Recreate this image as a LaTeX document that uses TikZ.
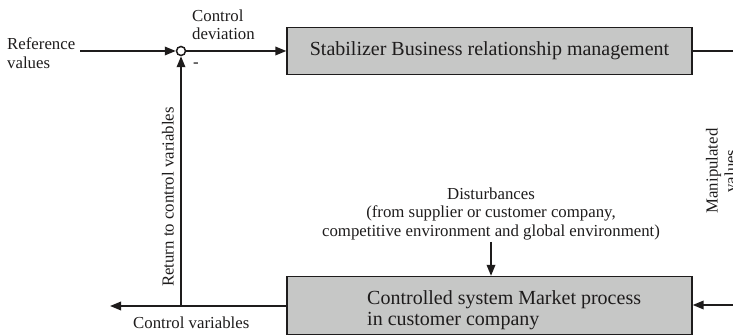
\documentclass[tikz,border=0pt]{standalone}
\usepackage{fontspec}
\setmainfont{Liberation Serif}
\usetikzlibrary{arrows.meta}
\definecolor{ink}{RGB}{30,28,28}
\definecolor{boxgray}{RGB}{198,199,198}
\begin{document}
\begin{tikzpicture}[x=1pt,y=-1pt,
  lbl/.style={inner sep=0pt,font=\fontsize{16.8}{18.5}\selectfont,text=ink},
  blockbox/.style={draw=ink,line width=1.3pt,fill=boxgray,inner sep=0pt},
  flow/.style={draw=ink,line width=1.8pt,-{Triangle[length=11pt,width=8.5pt]}},
  linkline/.style={draw=ink,line width=1.8pt}]
\useasboundingbox (0,0) rectangle (733,336);
\clip (0,0) rectangle (733,336);

% controller block
\node[blockbox,minimum width=405pt,minimum height=47pt,
      font=\fontsize{20}{24}\selectfont,text=ink] (ctrl) at (489.5,51)
      {Stabilizer Business relationship management};

% controlled system block
\node[blockbox,minimum width=405pt,minimum height=58pt] (sys) at (489.5,305.5) {};
\node[lbl,font=\fontsize{20}{20.5}\selectfont,align=left,anchor=west] (systxt) at (367,310)
      {Controlled system Market process\\in customer company};

% summing point
\node[circle,draw=ink,line width=1.5pt,fill=white,minimum size=9pt,inner sep=0pt] (sum) at (181,51) {};

% labels
\node[lbl,align=left,anchor=west] (ref) at (7,53) {Reference\\values};
\node[lbl,align=left,anchor=west] (dev) at (192,25) {Control\\deviation};
\node[lbl,anchor=center] (minus) at (196,65) {-};
\node[lbl,rotate=90] (ret) at (168,197) {Return to control variables};
\node[lbl,anchor=base west] (cv) at (133,328) {Control variables};
\node[lbl,align=center,anchor=south] (dist) at (491,240)
      {Disturbances\\(from supplier or customer company,\\competitive environment and global environment)};
\node[lbl,align=center,rotate=90] (manip) at (721,171) {Manipulated\\values};

% free ends of the connectors
\coordinate (refin) at (80,51);
\coordinate (outtop) at (740,51);
\coordinate (inbot) at (745,305);
\coordinate (cvout) at (110,306);
\coordinate (tap) at (181,306);

% connectors
\draw[flow] (refin) -- (sum);
\draw[flow] (sum) -- (ctrl);
\draw[linkline] (ctrl) -- (outtop);
\draw[flow] (inbot) -- (inbot -| sys.east);
\draw[flow] (cvout -| sys.west) -- (cvout);
\draw[flow] (tap) -- (sum);
\draw[flow] (dist.south) ++(0,2) -- (dist.south |- sys.north);
\end{tikzpicture}
\end{document}
